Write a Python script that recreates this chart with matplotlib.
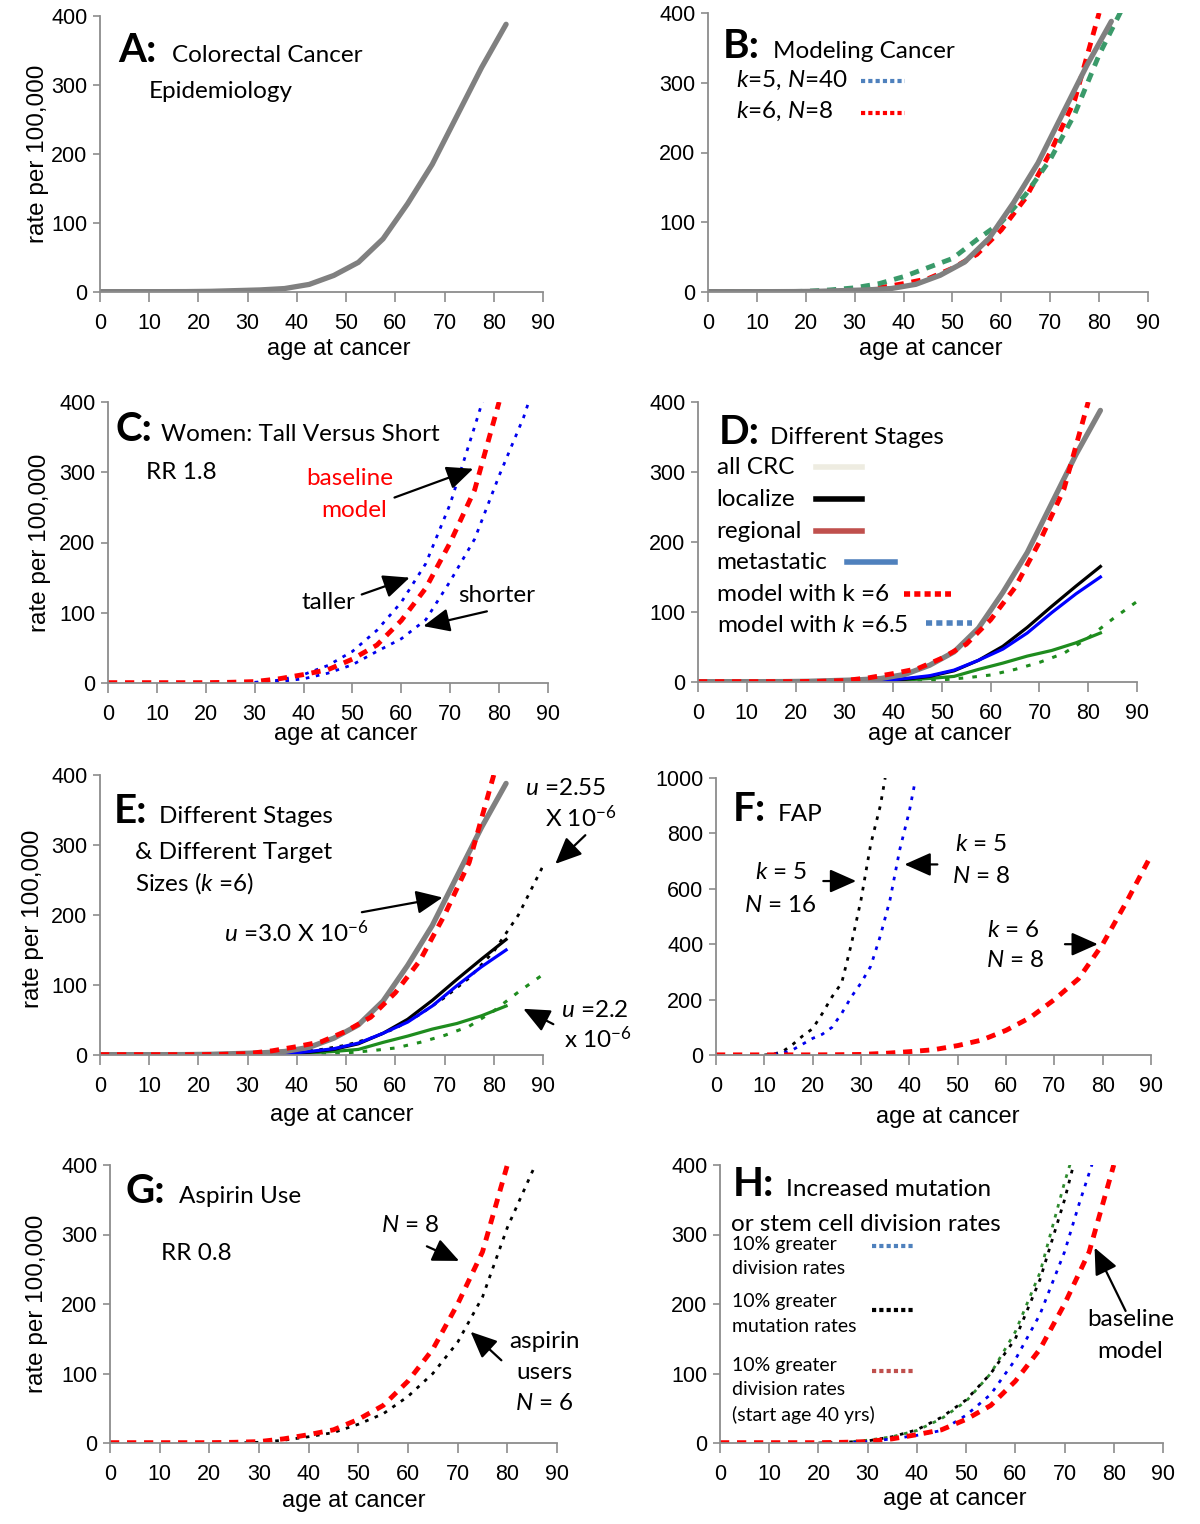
import matplotlib
matplotlib.use("Agg")
import matplotlib.pyplot as plt

plt.rcParams["font.family"] = ["Liberation Sans", "DejaVu Sans"]
plt.rcParams["mathtext.fontset"] = "custom"
plt.rcParams["mathtext.rm"] = "Lato"
plt.rcParams["mathtext.it"] = "Lato:italic"
plt.rcParams["mathtext.bf"] = "Lato:bold"

# -----------------------------
# Data
# -----------------------------
# observed colorectal cancer incidence (all stages)
crc_ages = [0, 7.5, 12.5, 17.5, 22.5, 27.5, 32.5, 37.5, 42.5, 47.5, 52.5, 57.5, 62.5, 67.5, 72.5, 77.5, 82.5]
crc_all = [0.5, 0.5, 0.5, 0.6, 1, 2, 3, 5, 11, 24, 43, 77, 128, 185, 255, 325, 388]

# incidence by stage
stage_ages = [32.5, 37.5, 42.5, 47.5, 52.5, 57.5, 62.5, 67.5, 72.5, 77.5, 82.5]
stage_local = [0.5, 1.5, 4, 8, 16, 31, 51, 78, 108, 137, 165]
stage_meta = [0.5, 1.5, 5, 9, 17, 31, 47, 70, 99, 126, 150]
stage_regional = [0.3, 1, 3, 5, 8, 18, 27, 37, 45, 56, 70]

# baseline model k=6, N=8
model_ages = [0, 5, 10, 15, 20, 25, 30, 35, 40, 45, 50, 55, 60, 65, 70, 75, 80, 85, 90]
model_k6 = [0.5, 0.5, 0.5, 0.5, 0.5, 1, 2, 6, 12, 19, 34, 54, 89, 135, 200, 275, 400, 555, 720]

# model k=5, N=40
k5n40_ages = [0, 5, 10, 15, 20, 25, 30, 35, 40, 45, 50, 55, 60, 65, 70, 75, 80, 85]
k5n40 = [0.5, 0.5, 0.5, 0.5, 1, 3, 6, 12, 22, 35, 48, 75, 100, 140, 190, 255, 340, 410]

# women: taller / shorter
tall_ages = [30, 35, 40, 45, 50, 55, 60, 65, 70, 75, 77]
tall = [1, 4, 12, 25, 45, 75, 115, 170, 255, 365, 410]
short_ages = [30, 35, 40, 45, 50, 55, 60, 65, 70, 75, 80, 85, 87]
short = [0.5, 2, 6, 14, 26, 45, 63, 90, 145, 205, 295, 378, 420]

# model k=6.5 (u = 2.2e-6) and u = 2.55e-6
k65_ages = [45, 50, 55, 60, 65, 70, 75, 80, 85, 90]
k65 = [1, 3, 6, 10, 18, 28, 41, 63, 90, 115]
u255_ages = [30, 35, 40, 45, 50, 55, 60, 65, 70, 75, 80, 85, 90]
u255 = [0.5, 1.5, 4, 8, 14, 24, 38, 58, 82, 110, 148, 200, 270]

# FAP
fap16_ages = [10, 12, 14, 16, 18, 20, 22, 24, 26, 28, 30, 32, 34, 35]
fap16 = [0, 3, 15, 40, 70, 95, 150, 210, 260, 400, 560, 760, 900, 1000]
fap8_ages = [12, 14, 16, 18, 20, 22, 24, 26, 28, 30, 32, 34, 36, 38, 40, 41]
fap8 = [3, 8, 20, 40, 60, 75, 100, 150, 210, 260, 320, 430, 560, 740, 880, 970]

# aspirin users N=6
asp_ages = [25, 30, 35, 40, 45, 50, 55, 60, 65, 70, 75, 80, 85, 86]
aspirin = [0, 1, 4, 9, 15, 27, 42, 67, 100, 145, 210, 310, 390, 405]

# increased mutation / division rates
div_ages = [25, 30, 35, 40, 45, 50, 55, 60, 65, 70, 73, 76]
div_rate = [0.5, 2, 6, 11, 18, 40, 70, 120, 185, 275, 345, 410]
mut_ages = [20, 25, 30, 35, 40, 45, 50, 55, 60, 65, 70, 72]
mut_rate = [0, 1, 3, 9, 19, 37, 62, 100, 150, 235, 350, 405]
div40_ages = [25, 30, 35, 40, 45, 50, 55, 60, 65, 70, 71.5]
div40_rate = [1, 4, 9, 18, 35, 60, 100, 160, 245, 375, 410]

# -----------------------------
# Styles
# -----------------------------
GRAY = dict(color="#808080", lw=3.8, solid_capstyle="round")
RED = dict(color="#ff0000", lw=3.5, dashes=(1.9, 1.6))
BLUE_DOT = dict(color="#0000ee", lw=2.0, dashes=(1.3, 2.4))
BLACK_DOT = dict(color="black", lw=2.0, dashes=(1.3, 2.4))
GREEN_DOT = dict(color="#1e8c1e", lw=2.2, dashes=(1.5, 3.0))
FS = 17.5
TXT = dict(family="Lato", fontsize=FS, clip_on=False)
LETTER = dict(family="Lato", fontsize=29, fontweight="bold")
ARROW = dict(arrowstyle="-|>,head_length=0.9,head_width=0.4", color="black",
             lw=1.6, mutation_scale=18, shrinkA=0, shrinkB=0)

fig = plt.figure(figsize=(12, 15.24), dpi=100)


def make_axes(l, r, t, b, ymax=400, ystep=100):
    ax = fig.add_axes([l / 1200, 1 - b / 1524, (r - l) / 1200, (b - t) / 1524])
    ax.set_xlim(0, 90)
    ax.set_ylim(0, ymax)
    ax.set_xticks(range(0, 91, 10))
    ax.set_yticks(range(0, ymax + 1, ystep))
    ax.spines["top"].set_visible(False)
    ax.spines["right"].set_visible(False)
    for s in ["left", "bottom"]:
        ax.spines[s].set_color("#8c8c8c")
        ax.spines[s].set_linewidth(1.3)
    ax.tick_params(axis="x", direction="out", length=7, width=1.2, color="#8c8c8c",
                   labelsize=15.5, pad=8)
    ax.tick_params(axis="y", direction="out", length=5, width=1.2, color="#8c8c8c",
                   labelsize=15.5, pad=4)
    return ax


def xlab(ax, xc, dy):
    ax.annotate("age at cancer", xy=(xc, 0), xytext=(0, -dy), textcoords="offset pixels",
                ha="center", va="center", fontsize=17, annotation_clip=False)


def ylab(ax, dx, yc=200):
    ax.annotate("rate per 100,000", xy=(0, yc), xytext=(-dx, 0), textcoords="offset pixels",
                ha="center", va="center", rotation=90, fontsize=17.5, annotation_clip=False)


def key(ax, x0, x1, y, ymax=400, **style):
    # legend sample line, in axes fraction
    ax.plot([x0 / 90, x1 / 90], [y / ymax, y / ymax], transform=ax.transAxes,
            clip_on=False, **style)


def arrow(ax, tail, tip):
    ax.annotate("", xy=tip, xytext=tail, arrowprops=ARROW, annotation_clip=False)


def upto(ages, vals, amax):
    pts = [(a, v) for a, v in zip(ages, vals) if a <= amax]
    return [p[0] for p in pts], [p[1] for p in pts]


m80 = upto(model_ages, model_k6, 80)

# -----------------------------
# A
# -----------------------------
ax = make_axes(100, 543, 16, 292)
ax.plot(crc_ages, crc_all, **GRAY)
ax.text(3.6, 334, "A:", **LETTER)
ax.text(14.6, 334, "Colorectal Cancer", **TXT)
ax.text(9.9, 281, "Epidemiology", **TXT)
xlab(ax, 48.6, 57)
ylab(ax, 62)

# -----------------------------
# B
# -----------------------------
ax = make_axes(708, 1148, 13, 292)
ax.plot(*m80, **RED)
ax.plot(k5n40_ages, k5n40, color="#3a9a6a", lw=3.5, dashes=(1.9, 1.6))
ax.plot(crc_ages, crc_all, **GRAY)
ax.text(3.1, 335, "B:", **LETTER)
ax.text(13.2, 335, "Modeling Cancer", **TXT)
ax.text(5.7, 294, "$k$=5, $N$=40", **TXT)
ax.text(5.7, 250, "$k$=6, $N$=8", **TXT)
key(ax, 31.3, 40.3, 303, color="#4f81bd", lw=3, dashes=(1, 0.75))
key(ax, 31.3, 40.3, 256, color="#ff0000", lw=3, dashes=(1, 0.75))
xlab(ax, 45.5, 57)

# -----------------------------
# C
# -----------------------------
ax = make_axes(108, 548, 402, 683)
ax.plot(tall_ages, tall, **BLUE_DOT)
ax.plot(short_ages, short, **BLUE_DOT)
ax.plot(*m80, **RED)
ax.text(1.6, 344, "C:", **LETTER)
ax.text(10.8, 344, "Women: Tall Versus Short", **TXT)
ax.text(7.7, 290, "RR 1.8", **TXT)
ax.text(49.5, 282, "baseline", ha="center", color="#ff0000", **TXT)
ax.text(50.3, 237, "model", ha="center", color="#ff0000", **TXT)
ax.text(45.1, 105, "taller", ha="center", **TXT)
ax.text(79.5, 115, "shorter", ha="center", **TXT)
arrow(ax, (58.6, 264), (74.7, 305))
arrow(ax, (51.9, 126), (61.7, 150))
arrow(ax, (77.5, 102), (64.5, 81))
xlab(ax, 48.7, 51)
ylab(ax, 68)

# -----------------------------
# D
# -----------------------------
ax = make_axes(698, 1137, 402, 682)
ax.plot(k65_ages, k65, **GREEN_DOT)
ax.plot(stage_ages, stage_regional, color="#1e8c1e", lw=2.3)
ax.plot(stage_ages, stage_local, color="black", lw=2.3)
ax.plot(stage_ages, stage_meta, color="#0000ff", lw=2.3)
ax.plot(crc_ages, crc_all, **GRAY)
ax.plot(*m80, **RED)
ax.text(4.2, 340, "D:", **LETTER)
ax.text(14.7, 340, "Different Stages", **TXT)
ax.text(3.8, 297, "all CRC", **TXT)
ax.text(3.8, 252, "localize", **TXT)
ax.text(3.8, 206, "regional", **TXT)
ax.text(3.8, 161, "metastatic", **TXT)
ax.text(3.8, 116, "model with k =6", **TXT)
ax.text(3.8, 71, "model with $k$ =6.5", **TXT)
key(ax, 24.2, 33.7, 307, color="#eeece1", lw=4)
key(ax, 24.2, 33.7, 261, color="black", lw=4)
key(ax, 24.2, 33.7, 216, color="#c0504d", lw=4)
key(ax, 30.6, 40.3, 171, color="#4f81bd", lw=4)
key(ax, 42.2, 51.9, 125, color="#ff0000", lw=4, dashes=(1.1, 0.75))
key(ax, 46.7, 56.2, 84, color="#4f81bd", lw=4, dashes=(1.1, 0.75))
xlab(ax, 49.5, 52)

# -----------------------------
# E
# -----------------------------
ax = make_axes(100, 543, 775, 1055)
ax.plot(*upto(k65_ages, k65, 90), **GREEN_DOT)
ax.plot(u255_ages, u255, **BLACK_DOT)
ax.plot(stage_ages, stage_regional, color="#1e8c1e", lw=2.3)
ax.plot(stage_ages, stage_local, color="black", lw=2.3)
ax.plot(stage_ages, stage_meta, color="#0000ff", lw=2.3)
ax.plot(crc_ages, crc_all, **GRAY)
ax.plot(*m80, **RED)
ax.text(2.8, 332, "E:", **LETTER)
ax.text(11.9, 332, "Different Stages", **TXT)
ax.text(7.2, 280, "& Different Target", **TXT)
ax.text(7.2, 235, "Sizes ($k$ =6)", **TXT)
ax.text(25.2, 161, "$u$ =3.0 X 10$^{-6}$", **TXT)
ax.text(94.7, 371, "$u$ =2.55", ha="center", **TXT)
ax.text(97.6, 326, "X 10$^{-6}$", ha="center", **TXT)
ax.text(100.6, 54, "$u$ =2.2", ha="center", **TXT)
ax.text(101.2, 10, "x 10$^{-6}$", ha="center", **TXT)
arrow(ax, (53.2, 204), (69.6, 225))
arrow(ax, (98.6, 314), (92.5, 273))
arrow(ax, (92.1, 44), (86, 66))
xlab(ax, 49.1, 60)
ylab(ax, 67, 194)

# -----------------------------
# F
# -----------------------------
ax = make_axes(716, 1151, 778, 1055, ymax=1000, ystep=200)
ax.plot(fap16_ages, fap16, **BLACK_DOT)
ax.plot(fap8_ages, fap8, **BLUE_DOT)
ax.plot(model_ages, model_k6, **RED)
ax.text(3.4, 846, "F:", **LETTER)
ax.text(12.7, 846, "FAP", **TXT)
ax.text(13.4, 634, "$k$ = 5", ha="center", **TXT)
ax.text(13.4, 517, "$N$ = 16", ha="center", **TXT)
ax.text(54.8, 736, "$k$ = 5", ha="center", **TXT)
ax.text(54.8, 622, "$N$ = 8", ha="center", **TXT)
ax.text(61.5, 427, "$k$ = 6", ha="center", **TXT)
ax.text(62.0, 316, "$N$ = 8", ha="center", **TXT)
arrow(ax, (22.2, 628), (29, 628))
arrow(ax, (45.8, 688), (39, 688))
arrow(ax, (72.2, 400), (79, 400))
xlab(ax, 47.9, 62)

# -----------------------------
# G
# -----------------------------
ax = make_axes(110, 557, 1165, 1443)
ax.plot(asp_ages, aspirin, **BLACK_DOT)
ax.plot(*m80, **RED)
ax.text(3.1, 346, "G:", **LETTER)
ax.text(13.9, 346, "Aspirin Use", **TXT)
ax.text(10.2, 263, "RR 0.8", **TXT)
ax.text(60.4, 304, "$N$ = 8", ha="center", **TXT)
ax.text(87.5, 137, "aspirin", ha="center", **TXT)
ax.text(87.5, 92, "users", ha="center", **TXT)
ax.text(87.5, 48, "$N$ = 6", ha="center", **TXT)
arrow(ax, (63.8, 283), (70.3, 262))
arrow(ax, (78.8, 119), (72.6, 160))
xlab(ax, 49.0, 58)
ylab(ax, 73)

# -----------------------------
# H
# -----------------------------
ax = make_axes(720, 1163, 1165, 1443)
ax.plot(div40_ages, div40_rate, color="#2e8b2e", lw=2.0, dashes=(1.3, 2.4))
ax.plot(mut_ages, mut_rate, **BLACK_DOT)
ax.plot(div_ages, div_rate, **BLUE_DOT)
ax.plot(*m80, **RED)
ax.text(2.5, 356, "H:", **LETTER)
ax.text(13.4, 356, "Increased mutation", **TXT)
ax.text(2.3, 305, "or stem cell division rates", **TXT)
SM = dict(family="Lato", fontsize=14)
ax.text(2.5, 278, "10% greater", **SM)
ax.text(2.5, 243, "division rates", **SM)
ax.text(2.5, 195, "10% greater", **SM)
ax.text(2.5, 160, "mutation rates", **SM)
ax.text(2.5, 104, "10% greater", **SM)
ax.text(2.5, 69, "division rates", **SM)
ax.text(2.5, 32, "(start age 40 yrs)", **SM)
key(ax, 30.8, 39.7, 283, color="#4f81bd", lw=3, dashes=(1, 0.75))
key(ax, 30.8, 39.7, 192, color="black", lw=3, dashes=(1, 0.75))
key(ax, 30.8, 39.7, 103, color="#c0504d", lw=3, dashes=(1, 0.75))
ax.text(83.4, 168, "baseline", ha="center", **TXT)
ax.text(83.4, 123, "model", ha="center", **TXT)
arrow(ax, (82.4, 190), (76.1, 281))
xlab(ax, 47.6, 56)

fig.savefig("out.png", dpi=100, facecolor="white")
